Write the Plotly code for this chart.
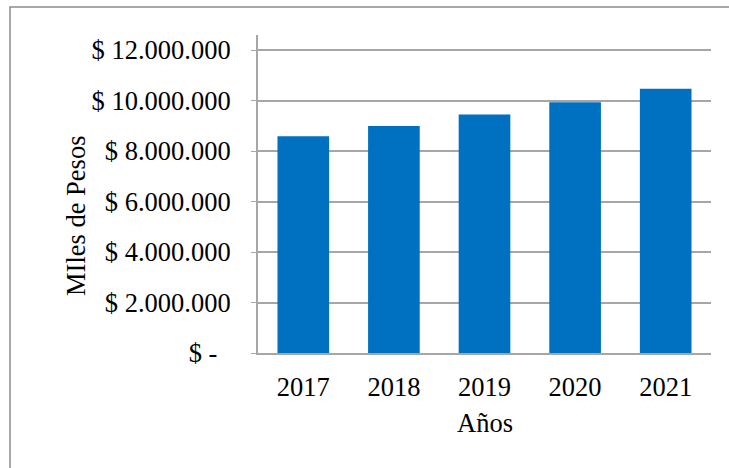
import plotly.graph_objects as go

# Annual amounts (thousands of pesos)
years = ["2017", "2018", "2019", "2020", "2021"]
amounts = [8590000, 8990000, 9450000, 9940000, 10470000]

tick_vals = [0, 2000000, 4000000, 6000000, 8000000, 10000000, 12000000]
tick_text = ["$ -\u00a0\u00a0", "$ 2.000.000", "$ 4.000.000", "$ 6.000.000",
             "$ 8.000.000", "$ 10.000.000", "$ 12.000.000"]

W, H = 729, 468
L, R, T, B = 258, 18, 35, 115
pw, ph = W - L - R, H - T - B

FONT = "Liberation Serif, Times New Roman, serif"
FS = 26.5
GRID = "#a6a6a6"

fig = go.Figure(go.Bar(
    x=years, y=amounts,
    marker=dict(color="#0070C0", line=dict(width=0)),
))

fig.update_layout(
    width=W, height=H,
    margin=dict(l=L, r=R, t=T, b=B, pad=0),
    paper_bgcolor="white", plot_bgcolor="white",
    bargap=0.43,
    showlegend=False,
    font=dict(family=FONT, size=FS, color="black"),
    xaxis=dict(
        showline=True, linecolor=GRID, linewidth=2,
        ticks="", showgrid=False,
        tickfont=dict(family=FONT, size=FS),
        ticklabelstandoff=9,
    ),
    yaxis=dict(
        range=[0, 12600000],
        tickmode="array", tickvals=tick_vals, ticktext=tick_text,
        showline=True, linecolor=GRID, linewidth=2,
        ticks="outside", ticklen=5, tickcolor=GRID, tickwidth=1,
        showgrid=True, gridcolor=GRID, gridwidth=1.5,
        zeroline=False,
        tickfont=dict(family=FONT, size=FS),
        ticklabelstandoff=15,
    ),
    annotations=[
        dict(text="MIles de Pesos", textangle=-90,
             x=(76 - L) / pw, y=(H - B - 216) / ph,
             xref="paper", yref="paper", showarrow=False,
             xanchor="center", yanchor="middle",
             font=dict(family=FONT, size=FS)),
        dict(text="Años",
             x=0.5, y=(H - B - 423) / ph,
             xref="paper", yref="paper", showarrow=False,
             xanchor="center", yanchor="middle",
             font=dict(family=FONT, size=FS)),
    ],
    shapes=[
        dict(type="rect", xref="paper", yref="paper",
             x0=(10 - L) / pw, x1=(W + 20 - L) / pw,
             y0=(H - B - (H + 20)) / ph, y1=(H - B - 7) / ph,
             line=dict(color="#8c8c8c", width=1.5), fillcolor="rgba(0,0,0,0)",
             layer="below"),
    ],
)

fig.write_html("out.html")
